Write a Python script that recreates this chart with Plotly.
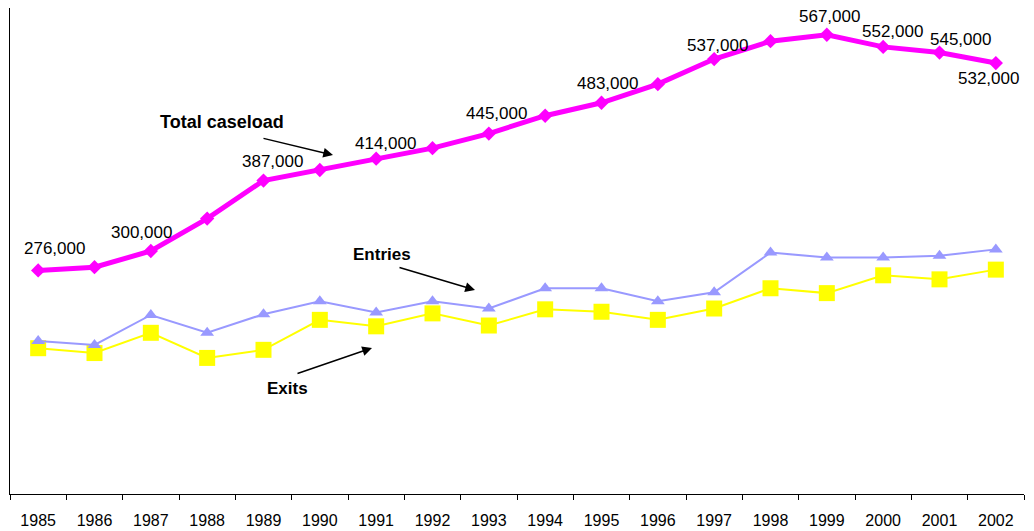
import plotly.graph_objects as go

years = [str(y) for y in range(1985, 2003)]
total_caseload = [276000, 280000, 300000, 340000, 387000, 400000, 414000, 427000, 445000,
                  467000, 483000, 506000, 537000, 559000, 567000, 552000, 545000, 532000]
entries = [189000, 184000, 221000, 199000, 222000, 238000, 224000, 238000, 229000,
           254000, 254000, 238000, 249000, 298000, 292000, 292000, 294000, 302000]
exits = [180000, 174000, 199000, 168000, 178000, 215000, 207000, 223000, 208000,
         228000, 225000, 215000, 229000, 254000, 248000, 270000, 265000, 277000]
labelled_years = ["1985", "1987", "1989", "1991", "1993", "1995", "1997",
                  "1999", "2000", "2001", "2002"]

# label offsets in pixels (style only)
label_shifts = {"1985": (16, 22), "1987": (-9, 19), "1989": (9, 19), "1991": (9, 15),
                "1993": (8, 20), "1995": (6, 19), "1997": (3, 14), "1999": (3, 18),
                "2000": (9, 15), "2001": (21, 13), "2002": (-7, -15)}

FONT = "Liberation Sans, Arial, sans-serif"

# page body has an 8px margin; work in page coordinates and convert
OFF = 8
W0, W1, H0, H1 = 10, 1024, 8, 494   # plot area in page pixels
FIG_W, FIG_H = 1026, 523

fig = go.Figure()
fig.add_trace(go.Scatter(x=years, y=exits, mode="lines+markers", name="Exits",
                         line=dict(color="#FFFF00", width=2),
                         marker=dict(symbol="square", size=16, color="#FFFF00")))
fig.add_trace(go.Scatter(x=years, y=entries, mode="lines+markers", name="Entries",
                         line=dict(color="#9999FF", width=2),
                         marker=dict(symbol="triangle-up", size=12, color="#9999FF")))
fig.add_trace(go.Scatter(x=years, y=total_caseload, mode="lines+markers", name="Total caseload",
                         line=dict(color="#FF00FF", width=5),
                         marker=dict(symbol="diamond", size=11, color="#FF00FF")))

annotations = []
for yr in labelled_years:
    i = years.index(yr)
    v = total_caseload[i]
    dx, dy = label_shifts[yr]
    annotations.append(dict(x=i, y=v, xref="x", yref="y", text=f"{v:,}", showarrow=False,
                            xanchor="center", yanchor="middle",
                            xshift=dx, yshift=dy, font=dict(size=17, color="black", family=FONT)))

def px(x):
    return (x - W0) / (W1 - W0)
def py(y):
    return (H1 - y) / (H1 - H0)

# text labels
for txt, x, y, s in [("Total caseload", 222, 122, 18), ("Entries", 382, 255, 17), ("Exits", 287, 388, 17)]:
    annotations.append(dict(x=px(x), y=py(y), xref="paper", yref="paper", text=f"<b>{txt}</b>",
                            xanchor="center", yanchor="middle",
                            showarrow=False, font=dict(size=s, color="black", family=FONT)))
# arrows
for hx, hy, tx, ty in [(333, 155, 262, 138), (475, 290, 398, 267), (372, 348, 296, 374)]:
    annotations.append(dict(x=px(hx), y=py(hy), xref="paper", yref="paper", text="",
                            showarrow=True, ax=tx - hx, ay=ty - hy, arrowhead=2,
                            arrowsize=1.3, arrowwidth=1.5, arrowcolor="black"))

fig.update_layout(
    width=FIG_W, height=FIG_H,
    margin=dict(l=W0 - OFF, r=FIG_W - (W1 - OFF), t=H0 - OFF, b=FIG_H - (H1 - OFF),
                autoexpand=False),
    paper_bgcolor="white", plot_bgcolor="white",
    showlegend=False,
    font=dict(family=FONT, size=16, color="black"),
    xaxis=dict(type="category", range=[-0.5, 17.5], showline=True, linecolor="black",
               linewidth=1, ticks="outside", tickson="boundaries", ticklen=5,
               tickcolor="black", showgrid=False, zeroline=False, automargin=False,
               ticklabelstandoff=12,
               tickfont=dict(size=16, color="black", family=FONT)),
    yaxis=dict(range=[0, 600000], showline=True, linecolor="black", linewidth=1,
               showticklabels=False, showgrid=False, zeroline=False, ticks="",
               automargin=False),
    annotations=annotations,
)

fig.write_html("out.html")
